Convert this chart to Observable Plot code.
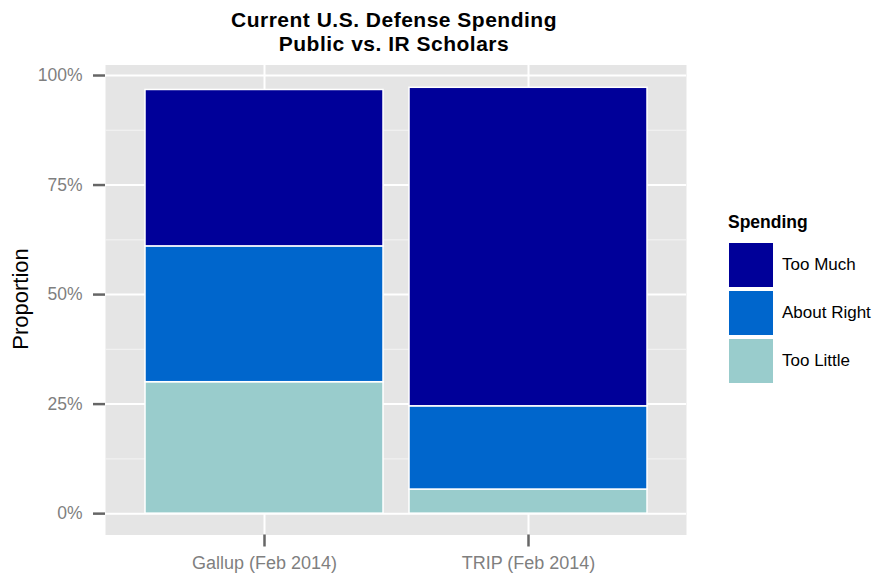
<!DOCTYPE html>
<html><head><meta charset="utf-8">
<script src="https://cdn.jsdelivr.net/npm/d3@7"></script>
<script src="https://cdn.jsdelivr.net/npm/@observablehq/plot@0.6"></script>
<style>
body{margin:0;background:#fff;font-family:"Liberation Sans",Arial,sans-serif;}
#wrap{position:relative;width:876px;height:573px;overflow:hidden;}
#wrap svg{position:absolute;left:0;top:0;}
#title{position:absolute;left:194px;width:400px;top:8px;text-align:center;font-weight:bold;font-size:21px;line-height:24px;letter-spacing:0.5px;color:#000;}
#ylab{position:absolute;left:20.5px;top:299px;transform:translate(-50%,-50%) rotate(-90deg);font-size:22px;color:#000;white-space:nowrap;}
#legend{position:absolute;left:728px;top:212px;}
#legend .lt{font-weight:bold;font-size:17.5px;line-height:20px;height:29px;}
#legend .row{display:flex;align-items:center;height:48px;}
#legend .key{width:46px;height:46px;box-sizing:border-box;border:1px solid #fff;}
#legend .lab{margin-left:8px;font-size:17px;color:#000;}
</style></head><body>
<div id="wrap">
  <div id="title"></div>
  <div id="ylab"></div>
  <div id="legend"></div>
</div>
<script>
const titleLines = ["Current U.S. Defense Spending", "Public vs. IR Scholars"];
const yTitle = "Proportion";
const legendTitle = "Spending";
const sources = ["Gallup (Feb 2014)", "TRIP (Feb 2014)"];
const responses = ["Too Much", "About Right", "Too Little"];
const colors = ["#000099", "#0066CC", "#99CCCC"];
const tooLittle = [0.300, 0.055];
const aboutRight = [0.310, 0.190];
const tooMuch = [0.357, 0.727];
const majorTicks = [0, 0.25, 0.5, 0.75, 1];
const minorTicks = [0.125, 0.375, 0.625, 0.875];

const data = [];
sources.forEach((s, i) => {
  data.push({source: s, response: "Too Little", value: tooLittle[i]});
  data.push({source: s, response: "About Right", value: aboutRight[i]});
  data.push({source: s, response: "Too Much", value: tooMuch[i]});
});

const font = '"Liberation Sans", Arial, sans-serif';
const chart = Plot.plot({
  width: 876, height: 573,
  marginLeft: 105, marginRight: 190, marginTop: 64.5, marginBottom: 38.5,
  style: {fontFamily: font, background: "transparent"},
  x: {type: "band", domain: sources, paddingInner: 0.1, paddingOuter: 0.15, label: null},
  y: {domain: [-0.04875, 1.024], label: null},
  color: {domain: responses, range: colors},
  marks: [
    Plot.frame({fill: "#E5E5E5", stroke: "none"}),
    Plot.gridY({ticks: minorTicks, stroke: "#F4F4F4", strokeOpacity: 1, strokeWidth: 1}),
    Plot.gridY({ticks: majorTicks, stroke: "#FFFFFF", strokeOpacity: 1, strokeWidth: 2}),
    Plot.gridX({stroke: "#FFFFFF", strokeOpacity: 1, strokeWidth: 2}),
    Plot.barY(data, {x: "source", y: "value", fill: "response", stroke: "#FFFFFF", strokeWidth: 1.5}),
    Plot.axisY({ticks: majorTicks, tickFormat: d3.format(".0%"), tickSize: 12, tickPadding: 11,
      fontSize: 17.5, stroke: "#666", fill: "#7F7F7F", strokeWidth: 2.5, label: null}),
    Plot.axisX({tickSize: 12, tickPadding: 9, fontSize: 18, stroke: "#666", fill: "#7F7F7F",
      strokeWidth: 2.5, label: null})
  ]
});
const wrap = document.getElementById("wrap");
wrap.insertBefore(chart, wrap.firstChild);

document.getElementById("title").innerHTML = titleLines.map(t => `<div>${t}</div>`).join("");
document.getElementById("ylab").textContent = yTitle;
const leg = document.getElementById("legend");
leg.innerHTML = `<div class="lt">${legendTitle}</div>` +
  responses.map((r, i) => `<div class="row"><div class="key" style="background:${colors[i]}"></div><div class="lab">${r}</div></div>`).join("");
</script>
</body></html>
